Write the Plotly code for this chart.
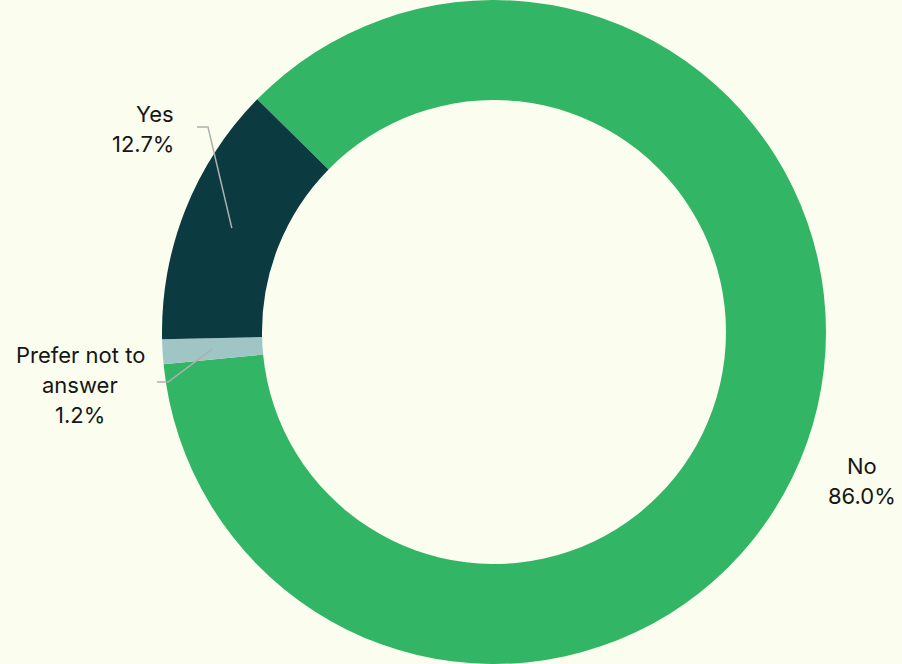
import math
import plotly.graph_objects as go

labels = ["No", "Prefer not to answer", "Yes"]
values = [86.0, 1.2, 12.7]
label_lines = [["No", "86.0%"], ["Prefer not to", "answer", "1.2%"], ["Yes", "12.7%"]]
colors = ["#33b566", "#9fc6c5", "#0b3a41"]

W, H = 902, 664
BG = "#fbfdee"
ROT = -45.5
CX_PX, CY_PX, R_OUT, R_IN = 494, 332, 332, 232

def paper(x, y):
    return x / W, 1 - y / H

fig = go.Figure(go.Pie(
    labels=labels, values=values, hole=R_IN / R_OUT, sort=False,
    direction="clockwise", rotation=ROT,
    marker=dict(colors=colors, line=dict(color=BG, width=0)),
    textinfo="none", hoverinfo="label+percent", showlegend=False,
    domain=dict(x=[(CX_PX - R_OUT) / W, (CX_PX + R_OUT) / W], y=[0, 1]),
))

# slice mid-angles derived from data
total = sum(values)
mids = []
acc = 0
for v in values:
    mids.append(ROT + 360 * (acc + v / 2) / total)
    acc += v

# leader lines: elbow/end pixel positions per label (layout, not data)
leaders = {1: [(168, 382), (157, 382)], 2: [(208, 127), (197, 127)]}
shapes = []
for i, pts in leaders.items():
    a = math.radians(mids[i])
    rm = (R_IN + R_OUT) / 2
    sx, sy = CX_PX + rm * math.sin(a), CY_PX - rm * math.cos(a)
    path_pts = [paper(sx, sy)] + [paper(*p) for p in pts]
    path = "M " + " L ".join(f"{x},{y}" for x, y in path_pts)
    shapes.append(dict(type="path", xref="paper", yref="paper", path=path,
                       line=dict(color="#b0b0b0", width=1.5)))

# label text positions (layout)
text_pos = {0: (862, [466, 496], "center"), 1: (80, [355, 385, 415], "center"),
            2: (176, [114, 144], "right")}
annotations = []
for i, (x, ys, align) in text_pos.items():
    for line, y in zip(label_lines[i], ys):
        px, py = paper(x, y)
        annotations.append(dict(x=px, y=py, xref="paper", yref="paper", text=line,
                                showarrow=False, xanchor=align, yanchor="middle",
                                font=dict(family="Inter", size=22, color="#161616")))

fig.update_layout(
    width=W, height=H, margin=dict(l=0, r=0, t=0, b=0),
    paper_bgcolor=BG, plot_bgcolor=BG,
    shapes=shapes, annotations=annotations,
)
fig.write_html("out.html", config={"displayModeBar": False},
               post_script="document.body.style.margin='0';")
